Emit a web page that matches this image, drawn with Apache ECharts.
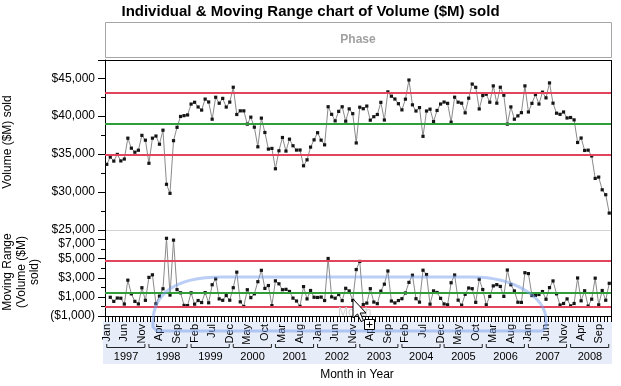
<!DOCTYPE html>
<html><head><meta charset="utf-8">
<script src="https://cdn.jsdelivr.net/npm/echarts@6/dist/echarts.min.js"></script>
<style>html,body{margin:0;padding:0;background:#fff;}#c{width:621px;height:386px;}</style>
</head><body><div id="c"></div>
<script>
// ---- data ----
const monthNames = ['Jan','Feb','Mar','Apr','May','Jun','Jul','Aug','Sep','Oct','Nov','Dec'];
const years = ['1997','1998','1999','2000','2001','2002','2003','2004','2005','2006','2007','2008'];

const volume = [
  33650, 34610, 34080, 34960, 34100, 34350, 37100, 35780, 35250, 35510, 37470, 36830,
  33790, 37100, 37380, 36300, 38150, 31020, 29830, 36770, 38530, 39960, 40070, 40160,
  41590, 41830, 41210, 40800, 42250, 41870, 39600, 42490, 41700, 42340, 41200, 41850,
  43810, 40220, 40700, 40700, 38950, 39870, 38550, 35960, 39740, 37850, 35660, 35750,
  33070, 35440, 37190, 35400, 36970, 36100, 35530, 35540, 33460, 34250, 35920, 36880,
  37820, 36840, 36220, 41240, 40240, 39380, 40630, 41240, 39340, 40960, 40330, 36470,
  41180, 40980, 41330, 39470, 39930, 40220, 41820, 39490, 43200, 42630, 42260, 41640,
  40830, 42240, 44760, 41490, 40680, 41130, 37340, 40680, 40920, 39290, 40750, 41600,
  41860, 41690, 39210, 42500, 41840, 41710, 40440, 42370, 44230, 43800, 40950, 42720,
  42890, 41840, 43990, 41710, 43810, 42760, 38950, 41220, 39600, 40040, 40460, 43990,
  40550, 41690, 42850, 41600, 43160, 42410, 44380, 41710, 40390, 40240, 40550, 39760,
  39820, 39510, 36530, 37120, 35480, 35520, 34760, 31800, 31970, 30300, 29650, 27230
];

const movingRange = [
  null, 960, 530, 880, 860, 250, 2750, 1320, 530, 260, 1960, 640,
  3040, 3310, 280, 1080, 1850, 7130, 1190, 6940, 1760, 1430, 110, 90,
  1430, 240, 620, 410, 1450, 380, 2270, 2890, 790, 640, 1140, 650,
  1960, 3590, 480, 0, 1750, 920, 1320, 2590, 3780, 1890, 2190, 90,
  2680, 2370, 1750, 1790, 1570, 870, 570, 10, 2080, 790, 1670, 960,
  940, 980, 620, 5020, 1000, 860, 1250, 610, 1900, 1620, 630, 3860,
  4710, 200, 350, 1860, 460, 290, 1600, 2330, 3710, 570, 370, 620,
  810, 1410, 2520, 3270, 810, 450, 3790, 3340, 240, 1630, 1460, 850,
  260, 170, 2480, 3290, 660, 130, 1270, 1930, 1860, 430, 2850, 1770,
  170, 1050, 2150, 2280, 2100, 1050, 3810, 2270, 1620, 440, 420, 3530,
  3440, 1140, 1160, 1250, 1560, 750, 1970, 2670, 1320, 150, 310, 790,
  60, 310, 2980, 590, 1640, 40, 760, 2960, 170, 1670, 650, 2420
];

const volumeLimits = [34970, 39010, 43050];   // LCL, centre, UCL
const rangeLimits = [0, 1460, 4820];          // LCL, centre, UCL
const upperTicks = [25000, 30000, 35000, 40000, 45000];
const lowerTicks = [-1000, 1000, 3000, 5000, 7000];

// ---- build ----
const categories = [];
years.forEach(y => monthNames.forEach(m => categories.push(m + ' ' + y)));

function money(v) {
  const s = '$' + Math.abs(v).toLocaleString('en-US');
  return v < 0 ? '(' + s + ')' : s;
}

const RED = '#e2445c', GREEN = '#2f9e3a';
const FONT = 'Liberation Sans, Arial, sans-serif';
const HL = 'rgba(120,160,238,0.5)';

function limitLines(lims) {
  const ls = c => ({ color: c, width: 2, type: 'solid', opacity: 1 });
  return {
    silent: true, symbol: ['none', 'none'], animation: false,
    label: { show: false },
    lineStyle: { width: 2, type: 'solid' },
    emphasis: { disabled: true },
    data: [
      { yAxis: lims[0], lineStyle: ls(RED) },
      { yAxis: lims[1], lineStyle: ls(GREEN) },
      { yAxis: lims[2], lineStyle: ls(RED) }
    ]
  };
}

function txt(x, y, text, font, fill, extra) {
  return Object.assign({ type: 'text', x: x, y: y,
    style: { text: text, font: font, fill: fill, align: 'center', verticalAlign: 'middle', textAlign: 'center', textVerticalAlign: 'middle' } }, extra || {});
}

const baseGraphics = [
  // phase box
  { type: 'rect', shape: { x: 105.5, y: 22.5, width: 506, height: 35 }, style: { fill: '#fff', stroke: '#a6a6a6', lineWidth: 1 } },
  txt(358, 40, 'Phase', 'bold 12px ' + FONT, '#a0a0a0'),
  // axis label band
  { type: 'rect', z: -10, shape: { x: 103, y: 321, width: 509, height: 43 }, style: { fill: '#e7edf8' } },
  // frame
  { type: 'line', shape: { x1: 105, y1: 60.5, x2: 611.5, y2: 60.5 }, style: { stroke: '#000', lineWidth: 1 } },
  { type: 'line', shape: { x1: 611.5, y1: 60, x2: 611.5, y2: 316.5 }, style: { stroke: '#000', lineWidth: 1 } },
  { type: 'line', shape: { x1: 106, y1: 230.5, x2: 611, y2: 230.5 }, style: { stroke: '#d4d4d4', lineWidth: 1 } },
  // axis titles
  txt(8, 142, 'Volume ($M) sold', '12px ' + FONT, '#000', { rotation: Math.PI / 2 }),
  { type: 'text', x: 21.5, y: 272, rotation: Math.PI / 2, style: { text: 'Moving Range\n(Volume ($M)\nsold)', font: '12px ' + FONT, lineHeight: 13.5, fill: '#000', align: 'center', verticalAlign: 'middle', textAlign: 'center', textVerticalAlign: 'middle' } },
  txt(357, 375, 'Month in Year', '12px ' + FONT, '#000'),
  // drag-drop highlight outline
  { type: 'bezierCurve', z: 50, shape: { x1: 153, y1: 322, cpx1: 153, cpy1: 296, cpx2: 172, cpy2: 277, x2: 222, y2: 277 }, style: { fill: null, stroke: HL, lineWidth: 3 } },
  { type: 'line', z: 50, shape: { x1: 222, y1: 277, x2: 472, y2: 277 }, style: { stroke: HL, lineWidth: 3 } },
  { type: 'bezierCurve', z: 50, shape: { x1: 472, y1: 277, cpx1: 515, cpy1: 277, cpx2: 546, cpy2: 298, x2: 546, y2: 320 }, style: { fill: null, stroke: HL, lineWidth: 3 } },
  { type: 'polyline', z: 50, shape: { points: [[153, 322], [153, 327], [157, 331], [542, 331], [546, 327], [546, 320]] }, style: { fill: null, stroke: HL, lineWidth: 3 } },
  { type: 'text', z: 51, x: 338, y: 313, style: { text: 'Month', font: '12px ' + FONT, fill: '#cfcfcf', align: 'left', verticalAlign: 'middle', textAlign: 'left', textVerticalAlign: 'middle' } },
  // cursor
  { type: 'polygon', z: 60, shape: { points: [[353, 299], [353, 318], [357.5, 314], [361, 321.5], [363.5, 320.5], [360.2, 313], [366, 313]] },
    style: { fill: '#fff', stroke: '#000', lineWidth: 1 } },
  { type: 'rect', z: 60, shape: { x: 364.5, y: 319.5, width: 10, height: 10 }, style: { fill: '#fff', stroke: '#000', lineWidth: 1 } },
  { type: 'line', z: 61, shape: { x1: 366.5, y1: 324.5, x2: 372.5, y2: 324.5 }, style: { stroke: '#000', lineWidth: 1 } },
  { type: 'line', z: 61, shape: { x1: 369.5, y1: 321.5, x2: 369.5, y2: 327.5 }, style: { stroke: '#000', lineWidth: 1 } }
];

const option = {
  animation: false,
  backgroundColor: '#fff',
  textStyle: { fontFamily: FONT },
  title: {
    text: 'Individual & Moving Range chart of Volume ($M) sold',
    left: 'center', top: -1,
    textStyle: { fontSize: 15, fontWeight: 'bold', color: '#000', fontFamily: FONT }
  },
  grid: [
    { left: 105, top: 60, width: 506, height: 170 },
    { left: 105, top: 230, width: 506, height: 86 }
  ],
  xAxis: [
    { type: 'category', gridIndex: 0, data: categories, boundaryGap: true,
      axisLine: { show: false }, axisTick: { show: false }, axisLabel: { show: false }, splitLine: { show: false } },
    { type: 'category', gridIndex: 1, data: categories, boundaryGap: true,
      axisLine: { show: true, onZero: false, lineStyle: { color: '#000', width: 1 } },
      axisTick: { show: true, inside: false, interval: 0, length: 6, lineStyle: { color: '#000' } },
      axisLabel: { interval: 4, rotate: 90, margin: 8, fontSize: 11, color: '#000', fontFamily: FONT,
        formatter: v => v.slice(0, 3) },
      splitLine: { show: false } },
    { type: 'category', gridIndex: 1, data: years, position: 'bottom', offset: 34, boundaryGap: true,
      axisLine: { show: false, onZero: false }, axisTick: { show: false },
      axisLabel: { interval: 0, margin: 1, fontSize: 11, color: '#000', fontFamily: FONT },
      splitLine: { show: false } }
  ],
  yAxis: [
    { type: 'value', gridIndex: 0, min: 25000, max: 47400, interval: 5000,
      axisLine: { show: true, lineStyle: { color: '#000' } },
      axisTick: { show: true, length: 7, lineStyle: { color: '#000' } },
      minorTick: { show: true, splitNumber: 2, length: 4, lineStyle: { color: '#000' } },
      splitLine: { show: false },
      axisLabel: { margin: 10, fontSize: 12, color: '#000', fontFamily: FONT,
        formatter: v => upperTicks.indexOf(v) >= 0 ? money(v) : '' } },
    { type: 'value', gridIndex: 1, min: -1000, max: 8000, interval: 2000,
      axisLine: { show: true, lineStyle: { color: '#000' } },
      axisTick: { show: true, length: 7, lineStyle: { color: '#000' } },
      minorTick: { show: true, splitNumber: 2, length: 4, lineStyle: { color: '#000' } },
      splitLine: { show: false },
      axisLabel: { margin: 10, fontSize: 12, color: '#000', fontFamily: FONT,
        formatter: v => {
          if (lowerTicks.indexOf(v) < 0) return '';
          return v === lowerTicks[lowerTicks.length - 1] ? '{low|' + money(v) + '}' : money(v);
        },
        rich: { low: { fontSize: 12, color: '#000', fontFamily: FONT, padding: [8, 0, 0, 0] } } } }
  ],
  series: [
    { type: 'line', xAxisIndex: 0, yAxisIndex: 0, data: volume,
      symbol: 'rect', symbolSize: 3.2, showAllSymbol: true, itemStyle: { color: '#151515' },
      lineStyle: { color: '#8a8a8a', width: 1 }, markLine: limitLines(volumeLimits), z: 3 },
    { type: 'line', xAxisIndex: 1, yAxisIndex: 1, data: movingRange, connectNulls: false,
      symbol: 'rect', symbolSize: 3.2, showAllSymbol: true, itemStyle: { color: '#151515' },
      lineStyle: { color: '#8a8a8a', width: 1 }, markLine: limitLines(rangeLimits), z: 3 }
  ],
  graphic: baseGraphics
};

const chart = echarts.init(document.getElementById('c'));
chart.setOption(option);

// year brackets from the month axis scale
const brackets = years.map((y, k) => {
  const a = chart.convertToPixel({ xAxisIndex: 1 }, categories[12 * k]);
  const b = chart.convertToPixel({ xAxisIndex: 1 }, categories[12 * k + 11]);
  return { type: 'polyline', shape: { points: [[a, 344], [a, 347.5], [b - 0.5, 347.5], [b - 0.5, 344]] },
    style: { stroke: '#222', lineWidth: 1, fill: null } };
});
chart.setOption({ graphic: baseGraphics.concat(brackets) });
</script>
</body></html>
